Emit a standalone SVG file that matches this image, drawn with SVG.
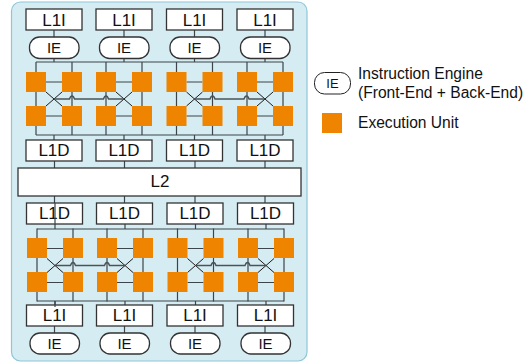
<svg xmlns="http://www.w3.org/2000/svg" width="532" height="362" viewBox="0 0 532 362">
<style>
text{font-family:"Liberation Sans",Arial,sans-serif;fill:#111;text-anchor:middle}
.b{font-size:17px}
.ie{font-size:15px}
.l{font-size:15.600px;text-anchor:start}
.box{fill:#fff;stroke:#333;stroke-width:1.3}
.eu{fill:#ee8400}
.c{fill:none;stroke:#3c4549;stroke-width:1.2}
.x{fill:none;stroke:#1c1c1c;stroke-width:1}
.h{fill:none;stroke:#4a5358;stroke-width:1.4}
</style>
<defs>
<g id="core">
<path class="x" d="M46 92L62 106M62 92L46 106"/>
<path class="c" d="M36 62V135M72 62V135M46 82H62M46 116H62"/>
</g>
<g id="eus">
<rect class="eu" x="26" y="72" width="20" height="20"/><rect class="eu" x="62" y="72" width="20" height="20"/>
<rect class="eu" x="26" y="106" width="20" height="20"/><rect class="eu" x="62" y="106" width="20" height="20"/>
</g>
<path id="hop" class="h" d="M54 99H69.500Q70.500 96 72 96Q73.500 96 74.500 99H103.500Q104.500 96 106 96Q107.500 96 108.500 99H124"/>
</defs>
<rect id="panel" x="11.500" y="2" width="295.500" height="359" rx="9" fill="#d6ecf3" stroke="#8fc6d8" stroke-width="1.200"/>
<g id="connectors">
<path class="c" d="M54 30V37M124 30V37M194.500 30V37M265 30V37M54 59V62M124 59V62M194.500 59V62M265 59V62M36 62H283M36 135H283M54 135V140M124 135V140M194.500 135V140M265 135V140M54.500 161V168M124.500 161V168M195 161V168M265 161V168"/>
<path class="c" d="M54.500 196V203M124.500 196V203M195 196V203M265 196V203M55 224V229M125 224V229M195.500 224V229M266 224V229M37 229H284M37 301H284M55 301V305M125 301V305M195.500 301V305M266 301V305M54.500 326V333M124.500 326V333M195 326V333M265 326V333"/>
<use href="#core"/><use href="#core" x="70"/><use href="#core" x="140.500"/><use href="#core" x="211"/>
<use href="#hop"/><use href="#hop" x="140.500"/>
<g transform="translate(1,166.500)"><use href="#core"/><use href="#core" x="70"/><use href="#core" x="140.500"/><use href="#core" x="211"/><use href="#hop"/><use href="#hop" x="140.500"/></g>
</g>
<g id="eu-top"><use href="#eus"/><use href="#eus" x="70"/><use href="#eus" x="140.500"/><use href="#eus" x="211"/></g>
<g id="eu-bottom" transform="translate(1,166)"><use href="#eus"/><use href="#eus" x="70"/><use href="#eus" x="140.500"/><use href="#eus" x="211"/></g>
<g id="l1i-top">
<rect class="box" x="26" y="9" width="56" height="21"/><text class="b" x="54" y="25.500">L1I</text>
<rect class="box" x="96" y="9" width="56" height="21"/><text class="b" x="124" y="25.500">L1I</text>
<rect class="box" x="166.500" y="9" width="56" height="21"/><text class="b" x="194.500" y="25.500">L1I</text>
<rect class="box" x="237" y="9" width="56" height="21"/><text class="b" x="265" y="25.500">L1I</text>
</g>
<g id="ie-top">
<rect class="box" x="29.500" y="37" width="49.500" height="21.500" rx="10"/><text class="ie" x="54" y="53">IE</text>
<rect class="box" x="99.500" y="37" width="49.500" height="21.500" rx="10"/><text class="ie" x="124" y="53">IE</text>
<rect class="box" x="170" y="37" width="49.500" height="21.500" rx="10"/><text class="ie" x="194.500" y="53">IE</text>
<rect class="box" x="240.500" y="37" width="49.500" height="21.500" rx="10"/><text class="ie" x="265" y="53">IE</text>
</g>
<g id="l1d-top">
<rect class="box" x="26" y="140" width="56" height="21"/><text class="b" x="54" y="156">L1D</text>
<rect class="box" x="96" y="140" width="56" height="21"/><text class="b" x="124" y="156">L1D</text>
<rect class="box" x="166.500" y="140" width="56" height="21"/><text class="b" x="194.500" y="156">L1D</text>
<rect class="box" x="237" y="140" width="56" height="21"/><text class="b" x="265" y="156">L1D</text>
</g>
<g id="l2"><rect class="box" x="18" y="168" width="283" height="28"/><text class="b" x="160" y="187">L2</text></g>
<g id="l1d-bottom">
<rect class="box" x="26.500" y="203" width="56" height="21"/><text class="b" x="54.500" y="219">L1D</text>
<rect class="box" x="96.500" y="203" width="56" height="21"/><text class="b" x="124.500" y="219">L1D</text>
<rect class="box" x="167" y="203" width="56" height="21"/><text class="b" x="195" y="219">L1D</text>
<rect class="box" x="237.500" y="203" width="56" height="21"/><text class="b" x="265.500" y="219">L1D</text>
</g>
<g id="l1i-bottom">
<rect class="box" x="26.500" y="305" width="56" height="21"/><text class="b" x="54.500" y="321">L1I</text>
<rect class="box" x="96.500" y="305" width="56" height="21"/><text class="b" x="124.500" y="321">L1I</text>
<rect class="box" x="167" y="305" width="56" height="21"/><text class="b" x="195" y="321">L1I</text>
<rect class="box" x="237.500" y="305" width="56" height="21"/><text class="b" x="265.500" y="321">L1I</text>
</g>
<g id="ie-bottom">
<rect class="box" x="30" y="333" width="49.500" height="21" rx="10"/><text class="ie" x="54.500" y="349">IE</text>
<rect class="box" x="100" y="333" width="49.500" height="21" rx="10"/><text class="ie" x="124.500" y="349">IE</text>
<rect class="box" x="170.500" y="333" width="49.500" height="21" rx="10"/><text class="ie" x="195" y="349">IE</text>
<rect class="box" x="241" y="333" width="49.500" height="21" rx="10"/><text class="ie" x="265.500" y="349">IE</text>
</g>
<g id="connectors-over"><path class="c" d="M55 203V224M55 301V307"/></g>
<g id="legend-ie"><rect x="314.500" y="72.500" width="36" height="21.500" rx="10" fill="#fff" stroke="#222" stroke-width="1"/><text x="332.500" y="87.500" style="font-size:13px">IE</text>
<text class="l" x="358" y="79">Instruction Engine</text><text class="l" x="358" y="97.500">(Front-End + Back-End)</text></g>
<g id="legend-eu"><rect class="eu" x="322" y="113" width="20" height="20"/><text class="l" x="358" y="128">Execution Unit</text></g>
</svg>
